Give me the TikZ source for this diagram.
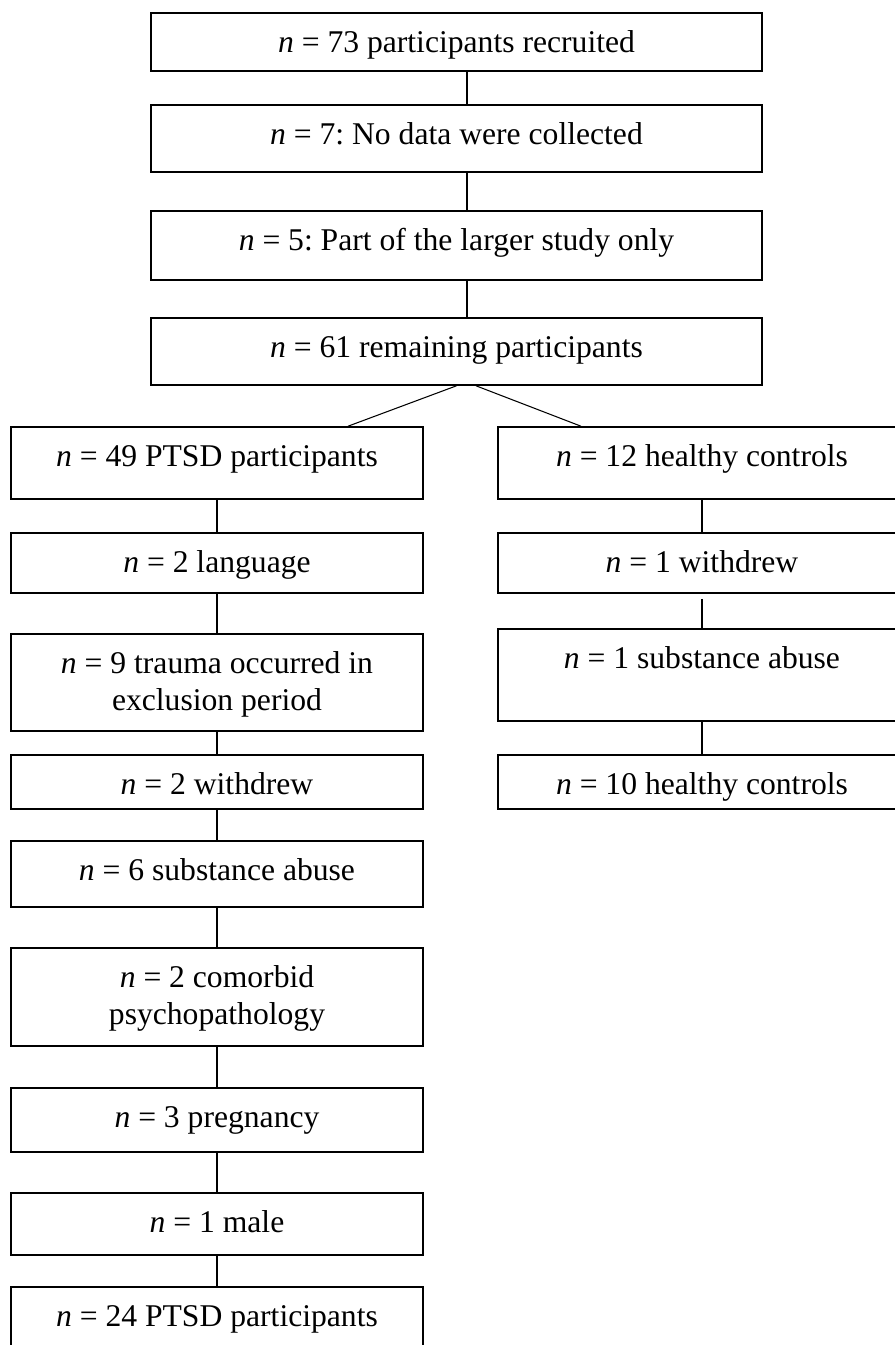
\documentclass[tikz,border=0pt]{standalone}
\usepackage{fontspec}
\setmainfont{Liberation Serif}
\usepackage{tikz}
\usetikzlibrary{shapes,positioning}

\newcommand{\nn}{\textit{n}}
\frenchspacing

\begin{document}
\begin{tikzpicture}[
	box/.style={draw, line width=0.9pt, inner sep=0pt, text height=0.78cm, align=center, font=\fontsize{18}{21}\selectfont},
	twoline/.style={text height=1.52cm},
	topbox/.style={box, minimum width=12.22cm},
	ptsdbox/.style={box, minimum width=8.24cm},
	hcbox/.style={box, minimum width=8.16cm},
	link/.style={line width=0.6pt}]
	\useasboundingbox (0,0) rectangle (17.9,-26.9);
	\clip (0,0) rectangle (17.9,-26.9);

	% all participants
	\node[topbox, text depth=0.38cm] (a1) at (9.13,-0.84) {\nn{} = 73 participants recruited};
	\node[topbox, text depth=0.56cm] (a2) at (9.13,-2.77) {\nn{} = 7: No data were collected};
	\node[topbox, text depth=0.60cm] (a3) at (9.13,-4.91) {\nn{} = 5: Part of the larger study only};
	\node[topbox, text depth=0.56cm] (a4) at (9.13,-7.03) {\nn{} = 61 remaining participants};

	% PTSD group
	\node[ptsdbox, text depth=0.66cm] (p1) at (4.34,-9.26) {\nn{} = 49 PTSD participants};
	\node[ptsdbox, text depth=0.42cm] (p2) at (4.34,-11.26) {\nn{} = 2 language};
	\node[ptsdbox, twoline, text depth=0.42cm] (p3) at (4.34,-13.65) {\nn{} = 9 trauma occurred in\\exclusion period};
	\node[ptsdbox, text depth=0.30cm] (p4) at (4.34,-15.64) {\nn{} = 2 withdrew};
	\node[ptsdbox, text depth=0.54cm] (p5) at (4.34,-17.48) {\nn{} = 6 substance abuse};
	\node[ptsdbox, twoline, text depth=0.44cm] (p6) at (4.34,-19.94) {\nn{} = 2 comorbid\\psychopathology};
	\node[ptsdbox, text depth=0.50cm] (p7) at (4.34,-22.40) {\nn{} = 3 pregnancy};
	\node[ptsdbox, text depth=0.46cm] (p8) at (4.34,-24.48) {\nn{} = 1 male};
	\node[ptsdbox, text depth=0.62cm] (p9) at (4.34,-26.44) {\nn{} = 24 PTSD participants};

	% healthy controls
	\node[hcbox, text depth=0.66cm] (h1) at (14.04,-9.26) {\nn{} = 12 healthy controls};
	\node[hcbox, text depth=0.42cm] (h2) at (14.04,-11.26) {\nn{} = 1 withdrew};
	\node[hcbox, text depth=1.06cm] (h3) at (14.04,-13.50) {\nn{} = 1 substance abuse};
	\node[hcbox, text depth=0.30cm] (h4) at (14.04,-15.64) {\nn{} = 10 healthy controls};

	\path [link] ([xshift=0.21cm]a1.south) edge ([xshift=0.21cm]a2.north);
	\path [link] ([xshift=0.21cm]a2.south) edge ([xshift=0.21cm]a3.north);
	\path [link] ([xshift=0.21cm]a3.south) edge ([xshift=0.21cm]a4.north);
	\path [link] (a4.south) edge ([xshift=2.62cm]p1.north);
	\path [link] ([xshift=0.39cm]a4.south) edge ([xshift=-2.42cm]h1.north);

	\foreach \i/\j in {p1/p2,p2/p3,p3/p4,p4/p5,p5/p6,p6/p7,p7/p8,p8/p9,h1/h2,h3/h4}
		\path [link] (\i.south) edge (\j.north);
	\path [link, shorten <=0.1cm] (h2.south) edge (h3.north);
\end{tikzpicture}
\end{document}
